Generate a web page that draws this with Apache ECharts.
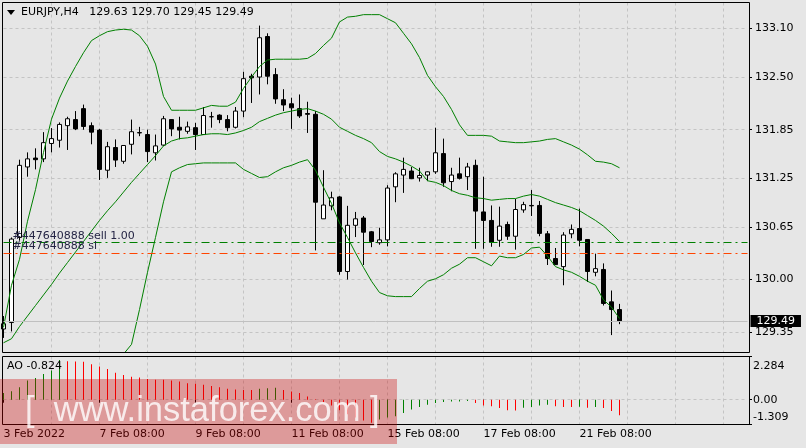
<!DOCTYPE html>
<html><head><meta charset="utf-8">
<script src="https://cdn.jsdelivr.net/npm/echarts@6/dist/echarts.min.js"></script>
<style>html,body{margin:0;padding:0;background:#e6e6e6}#c{width:806px;height:448px}</style>
</head><body><div id="c"></div>
<script>
const symbol = 'EURJPY', timeframe = 'H4';
const opens = [129.39,129.47,130.52,131.39,131.50,131.49,131.68,131.72,131.90,131.975,
132.11,131.90,131.845,131.35,131.63,131.46,131.67,131.81,131.79,131.565,
131.66,131.975,131.88,131.83,131.875,131.79,132.01,132.03,131.975,131.88,
132.08,132.51,132.50,133.00,132.53,132.22,132.17,132.11,132.05,132.04,
130.75,130.91,131.02,130.10,130.67,130.76,130.59,130.455,130.49,131.145,
131.29,131.34,131.255,131.29,131.33,131.555,131.21,131.305,131.27,131.41,
130.835,130.73,130.485,130.68,130.535,130.86,130.915,130.915,130.565,130.26,
130.16,130.565,130.63,130.495,130.09,130.125,129.725,129.63];
const highs = [129.55,130.52,131.48,131.57,131.62,131.82,131.87,131.94,132.01,132.08,
132.16,131.94,131.86,131.70,131.73,131.66,131.975,131.885,131.85,131.79,
132.02,131.98,132.01,131.95,131.935,132.13,132.07,132.04,132.03,132.13,
132.565,132.54,133.135,133.04,132.61,132.35,132.245,132.285,132.195,132.08,
131.35,131.085,131.03,130.91,130.835,130.785,130.60,130.64,131.165,131.325,
131.505,131.39,131.38,131.335,131.875,131.74,131.38,131.505,131.44,131.48,
131.27,130.915,130.90,130.715,130.995,130.96,131.105,130.97,130.60,130.39,
130.585,130.68,130.875,130.50,130.32,130.20,129.865,129.70];
const lows = [129.28,129.36,130.48,131.27,131.36,131.45,131.57,131.63,131.60,131.845,
131.85,131.67,131.23,131.255,131.39,131.43,131.545,131.77,131.45,131.47,
131.65,131.77,131.73,131.80,131.60,131.79,131.875,131.93,131.83,131.865,
132.005,132.18,132.285,132.41,132.17,132.08,131.86,131.995,131.81,130.36,
130.75,130.855,130.06,130.00,130.525,130.18,130.40,130.43,130.41,130.955,
131.07,131.24,131.21,131.215,131.305,131.145,131.09,131.235,131.105,130.38,
130.38,130.405,130.405,130.49,130.37,130.825,130.785,130.535,130.18,130.18,
129.93,130.51,130.41,129.97,130.04,129.68,129.315,129.45];
const closes = [129.455,130.50,131.41,131.49,131.48,131.69,131.74,131.915,131.985,131.86,
131.89,131.82,131.36,131.64,131.475,131.655,131.825,131.815,131.58,131.65,
131.985,131.86,131.845,131.885,131.79,132.025,132.01,131.975,131.875,132.08,
132.48,132.49,132.985,132.51,132.23,132.155,132.12,132.02,132.04,130.955,
130.92,131.01,130.10,130.67,130.75,130.585,130.47,130.49,131.13,131.305,
131.36,131.245,131.285,131.33,131.565,131.195,131.29,131.25,131.39,130.845,
130.73,130.46,130.66,130.535,130.865,130.925,130.91,130.57,130.26,130.185,
130.55,130.62,130.485,130.10,130.135,129.705,129.63,129.49];
const bbUpper = [129.41,129.93,130.25,130.72,131.11,131.57,131.98,132.24,132.45,132.63,
132.80,132.95,133.01,133.06,133.08,133.09,133.08,133.01,132.88,132.66,
132.26,132.09,132.09,132.09,132.09,132.12,132.15,132.14,132.14,132.19,
132.36,132.50,132.63,132.71,132.72,132.72,132.72,132.72,132.73,132.79,
132.89,132.98,133.18,133.24,133.25,133.27,133.27,133.27,133.22,133.17,
133.04,132.91,132.74,132.52,132.38,132.26,132.10,131.91,131.78,131.78,
131.78,131.77,131.71,131.70,131.69,131.69,131.70,131.71,131.73,131.74,
131.70,131.66,131.61,131.54,131.46,131.45,131.43,131.38];
const bbMiddle = [129.22,129.27,129.42,129.55,129.68,129.81,129.94,130.08,130.21,130.34,
130.47,130.60,130.73,130.85,130.96,131.08,131.20,131.31,131.42,131.53,
131.65,131.71,131.74,131.75,131.77,131.79,131.80,131.80,131.79,131.81,
131.84,131.88,131.95,131.99,132.03,132.06,132.08,132.10,132.11,132.08,
132.04,131.98,131.88,131.83,131.78,131.74,131.69,131.58,131.52,131.49,
131.45,131.40,131.34,131.22,131.20,131.16,131.10,131.06,131.04,131.01,
131.00,130.98,130.99,131.00,131.00,131.03,131.05,131.03,130.99,130.95,
130.92,130.89,130.85,130.79,130.73,130.66,130.57,130.47];
const bbLower = [129.04,128.62,128.59,128.38,128.25,128.06,127.92,127.92,127.97,128.05,
128.14,128.25,128.46,128.64,128.85,129.08,129.20,129.63,130.09,130.52,
130.96,131.33,131.38,131.42,131.43,131.44,131.44,131.44,131.44,131.44,
131.36,131.31,131.26,131.27,131.33,131.38,131.41,131.45,131.48,131.35,
131.14,130.94,130.70,130.52,130.33,130.15,129.98,129.84,129.80,129.79,
129.79,129.79,129.89,129.98,130.01,130.06,130.14,130.19,130.27,130.27,
130.22,130.17,130.29,130.27,130.27,130.31,130.39,130.40,130.29,130.16,
130.12,130.09,130.04,129.98,129.93,129.75,129.66,129.52];
const aoValues = [0.35,0.45,0.66,1.01,1.15,1.36,1.54,2.10,2.03,2.02,
2.00,1.88,1.75,1.62,1.43,1.31,1.22,1.17,1.10,1.06,
1.05,1.01,0.96,0.87,0.84,0.79,0.72,0.66,0.58,0.54,
0.52,0.51,0.58,0.61,0.63,0.52,0.44,0.35,0.17,0.03,
-0.12,-0.30,-0.56,-0.77,-0.94,-1.10,-1.22,-1.05,-0.94,-0.87,
-0.70,-0.52,-0.38,-0.26,-0.17,-0.12,-0.10,-0.09,-0.07,-0.17,
-0.30,-0.35,-0.44,-0.56,-0.57,-0.42,-0.38,-0.31,-0.26,-0.35,
-0.38,-0.39,-0.37,-0.42,-0.38,-0.44,-0.59,-0.824];
const priceTicks = [133.10, 132.50, 131.85, 131.25, 130.65, 130.00, 129.35];
const aoTicks = [2.284, 0, -1.309];
const aoTickLabels = ['2.284', '0.00', '-1.309'];
const orderId = '#447640888';
const sellLevel = 130.458, slLevel = 130.334;
const totalSlots = 94; // bars incl. empty right margin

// time categories (H4 bars, weekends skipped)
const months = ['Jan','Feb','Mar','Apr','May','Jun','Jul','Aug','Sep','Oct','Nov','Dec'];
const barTimes = [];
let t = Date.UTC(2022, 1, 3, 8);
while (barTimes.length < totalSlots) {
  const d = new Date(t);
  const wd = d.getUTCDay();
  if (wd !== 0 && wd !== 6) barTimes.push(d);
  t += 4 * 3600 * 1000;
}
const pad = n => (n < 10 ? '0' : '') + n;
const categories = barTimes.map(d => d.getUTCDate() + ' ' + months[d.getUTCMonth()] + ' ' + pad(d.getUTCHours()) + ':' + pad(d.getUTCMinutes()));
function timeLabel(i) {
  const d = barTimes[i];
  return i === 0 ? d.getUTCDate() + ' ' + months[d.getUTCMonth()] + ' ' + d.getUTCFullYear() : categories[i];
}

const n = opens.length;
const last = n - 1;
const candleData = opens.map((o, i) => [o, closes[i], lows[i], highs[i]]);
const bidPrice = closes[last];
const FONT = 'DejaVu Sans';
const GRIDC = '#c4c4c4';

const chart = echarts.init(document.getElementById('c'), null, {renderer: 'canvas'});
chart.setOption({
  animation: false,
  backgroundColor: '#e6e6e6',
  textStyle: {fontFamily: FONT},
  title: [
    {text: symbol + ',' + timeframe + '   ' + [opens[last], highs[last], lows[last], closes[last]].map(v => v.toFixed(2)).join(' '),
     left: 21, top: 7, padding: 0, textStyle: {fontFamily: FONT, fontSize: 11, fontWeight: 'normal', color: '#000'}},
    {text: 'AO ' + aoValues[last].toFixed(3), left: 7, top: 361, padding: 0,
     textStyle: {fontFamily: FONT, fontSize: 11, fontWeight: 'normal', color: '#000'}}
  ],
  grid: [
    {left: 3.5, width: 744, top: 2.5, height: 350},
    {left: 3.5, width: 744, top: 356.5, height: 68}
  ],
  xAxis: [
    {type: 'category', gridIndex: 0, data: categories, boundaryGap: false,
     axisLine: {show: false}, axisTick: {show: false}, axisLabel: {show: false},
     splitLine: {show: true, interval: i => i > 0 && i % 6 === 0, lineStyle: {color: GRIDC, type: [3, 3]}}},
    {type: 'category', gridIndex: 1, data: categories, boundaryGap: false,
     axisLine: {show: false},
     axisTick: {show: true, length: 3, interval: i => i % 12 === 0 && i <= last, lineStyle: {color: '#000'}},
     axisLabel: {show: true, interval: i => i % 12 === 0 && i <= last, align: 'left', margin: 4,
       color: '#000', fontFamily: FONT, fontSize: 11, formatter: (v, i) => timeLabel(i)},
     splitLine: {show: true, interval: i => i > 0 && i % 6 === 0, lineStyle: {color: GRIDC, type: [3, 3]}}}
  ],
  yAxis: [
    {type: 'value', gridIndex: 0, position: 'right', offset: 1.5, min: 129.10, max: 133.42,
     axisLine: {show: false},
     axisTick: {show: true, length: 3, customValues: priceTicks, lineStyle: {color: '#000'}},
     axisLabel: {show: true, customValues: priceTicks, formatter: v => v.toFixed(2), margin: 6,
       color: '#000', fontFamily: FONT, fontSize: 11},
     splitLine: {show: true, lineStyle: {color: GRIDC, type: [3, 3]}}},
    {type: 'value', gridIndex: 1, position: 'right', offset: 1.5, min: -1.309, max: 2.284,
     axisLine: {show: false},
     axisTick: {show: true, length: 3, customValues: aoTicks, lineStyle: {color: '#000'}},
     axisLabel: {show: true, customValues: aoTicks, margin: 4, color: '#000', fontFamily: FONT, fontSize: 11,
       formatter: v => {
         const k = aoTicks.indexOf(v);
         const s = aoTickLabels[k];
         return k === 0 ? '{t|' + s + '}' : (k === 2 ? '{b|' + s + '}' : s);
       },
       rich: {t: {padding: [20, 0, 0, 0], fontFamily: FONT, fontSize: 11, color: '#000'},
              b: {padding: [0, 0, 15, 0], fontFamily: FONT, fontSize: 11, color: '#000'}}},
     splitLine: {show: true, lineStyle: {color: GRIDC, type: [3, 3]}}}
  ],
  series: [
    {type: 'candlestick', xAxisIndex: 0, yAxisIndex: 0, data: candleData, barWidth: 4, clip: false,
     itemStyle: {color: '#ffffff', color0: '#000000', borderColor: '#000000', borderColor0: '#000000', borderWidth: 1},
     markLine: {symbol: ['none', 'none'], silent: true, animation: false,
       data: [
         {yAxis: bidPrice, lineStyle: {color: '#c0c0c0', type: 'solid', width: 1},
          label: {show: true, position: 'end', distance: 3, formatter: bidPrice.toFixed(2), color: '#fff',
            backgroundColor: '#000', padding: [1, 6, 0, 6], fontFamily: FONT, fontSize: 11}},
         {yAxis: sellLevel, lineStyle: {color: '#008000', type: [8, 4, 2, 4], width: 1, opacity: 1},
          label: {show: true, position: 'insideStartTop', distance: [9, 1], formatter: orderId + ' sell 1.00',
            color: '#252545', fontFamily: FONT, fontSize: 11}},
         {yAxis: slLevel, lineStyle: {color: '#ff4500', type: [8, 4, 2, 4], width: 1, opacity: 1},
          label: {show: true, position: 'insideStartTop', distance: [9, 1], formatter: orderId + ' sl',
            color: '#252545', fontFamily: FONT, fontSize: 11}}
       ]}},
    {type: 'line', name: 'BB upper', xAxisIndex: 0, yAxisIndex: 0, data: bbUpper, symbol: 'none',
     lineStyle: {color: '#008000', width: 1}, itemStyle: {color: '#008000'}},
    {type: 'line', name: 'BB middle', xAxisIndex: 0, yAxisIndex: 0, data: bbMiddle, symbol: 'none',
     lineStyle: {color: '#008000', width: 1}, itemStyle: {color: '#008000'}},
    {type: 'line', name: 'BB lower', xAxisIndex: 0, yAxisIndex: 0, data: bbLower, symbol: 'none',
     lineStyle: {color: '#008000', width: 1}, itemStyle: {color: '#008000'}},
    {type: 'bar', name: 'AO', xAxisIndex: 1, yAxisIndex: 1, data: aoValues, barWidth: 1,
     itemStyle: {color: p => (p.dataIndex === 0 || aoValues[p.dataIndex] > aoValues[p.dataIndex - 1]) ? '#008000' : '#ff0000'}}
  ],
  graphic: [
    {type: 'rect', z: 50, silent: true, shape: {x: 2.5, y: 2.5, width: 747, height: 350}, style: {fill: 'none', stroke: '#000', lineWidth: 1}},
    {type: 'rect', z: 50, silent: true, shape: {x: 2.5, y: 356.5, width: 747, height: 68}, style: {fill: 'none', stroke: '#000', lineWidth: 1}},
    {type: 'polygon', z: 50, silent: true, shape: {points: [[7, 10], [15, 10], [11, 15]]}, style: {fill: '#000'}},
    {type: 'rect', z: 100, silent: true, shape: {x: 0, y: 379, width: 397, height: 65}, style: {fill: 'rgba(204,0,0,0.33)'}},
    {type: 'text', z: 101, silent: true, x: 25, y: 411,
     style: {text: '[  www.instaforex.com ]', font: '34.5px "Liberation Sans"', fill: 'rgba(255,255,255,0.8)', verticalAlign: 'middle'}}
  ]
});
</script></body></html>
